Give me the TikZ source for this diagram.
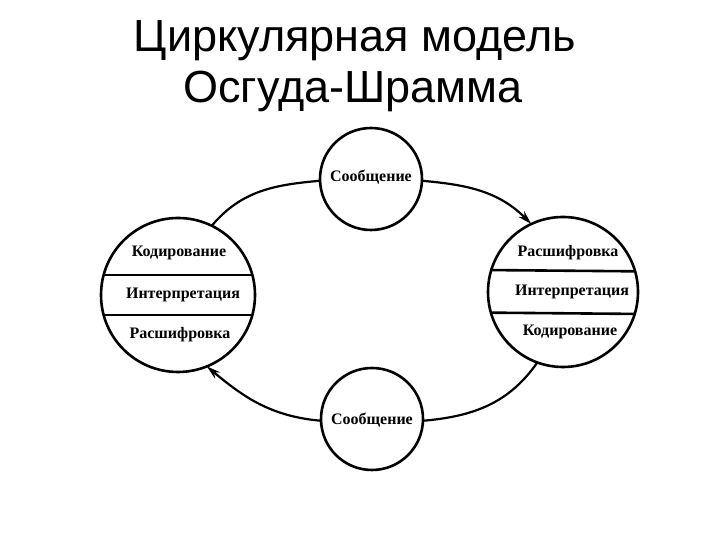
\documentclass[tikz,border=0pt]{standalone}
\usepackage{fontspec}
\setmainfont{Liberation Serif}
\newfontfamily\titlefont{Liberation Sans}
\usetikzlibrary{arrows.meta}
\begin{document}
\begin{tikzpicture}[x=1pt,y=1pt,
  ring/.style={circle,draw,line width=2.6pt,outer sep=0pt,inner sep=0pt},
  lbl/.style={font=\bfseries\fontsize{16}{18}\selectfont},
  link/.style={line width=2.2pt},
  ttl/.style={font=\titlefont\fontsize{45}{48}\selectfont}]
\useasboundingbox (0,0) rectangle (720,540);
% title
\node[ttl] (t1) at (355,499) {Циркулярная модель};
\node[ttl] (t2) at (353,449) {Осгуда-Шрамма};
% circles
\node[ring,minimum size=102pt] (mt) at (371,361) {};
\node[ring,minimum size=102pt] (mb) at (372,121) {};
\node[ring,minimum size=154pt] (L) at (178,245) {};
\node[ring,minimum size=150pt] (R) at (563,248) {};
% chords
\draw[line width=2.6pt] (L.165) -- (L.15);
\draw[line width=2.6pt] (L.195) -- (L.345);
\draw[line width=2.6pt] (R.163.7) -- (R.16.3);
\draw[line width=2.6pt] (R.196.3) -- (R.343.7);
% labels
\node[lbl] (mtl) at (371,363) {Сообщение};
\node[lbl] (mbl) at (372,120) {Сообщение};
\node[lbl] (l1) at (179,287) {Кодирование};
\node[lbl] (l2) at (183,245) {Интерпретация};
\node[lbl] (l3) at (180,205) {Расшифровка};
\node[lbl] (r1) at (568,287) {Расшифровка};
\node[lbl] (r2) at (572,248) {Интерпретация};
\node[lbl] (r3) at (570,208) {Кодирование};
% connectors
\draw[link] (mt.182) to[out=185,in=50] (L.64);
\draw[link,-{Stealth[length=14pt,width=8pt]}] (mt.-2) to[out=-5,in=135] (R.115);
\draw[link] (R.250) to[out=235,in=5] (mb.-2);
\draw[link,-{Stealth[length=14pt,width=8pt]}] (mb.182) to[out=175,in=-40] (L.292);
\end{tikzpicture}
\end{document}
